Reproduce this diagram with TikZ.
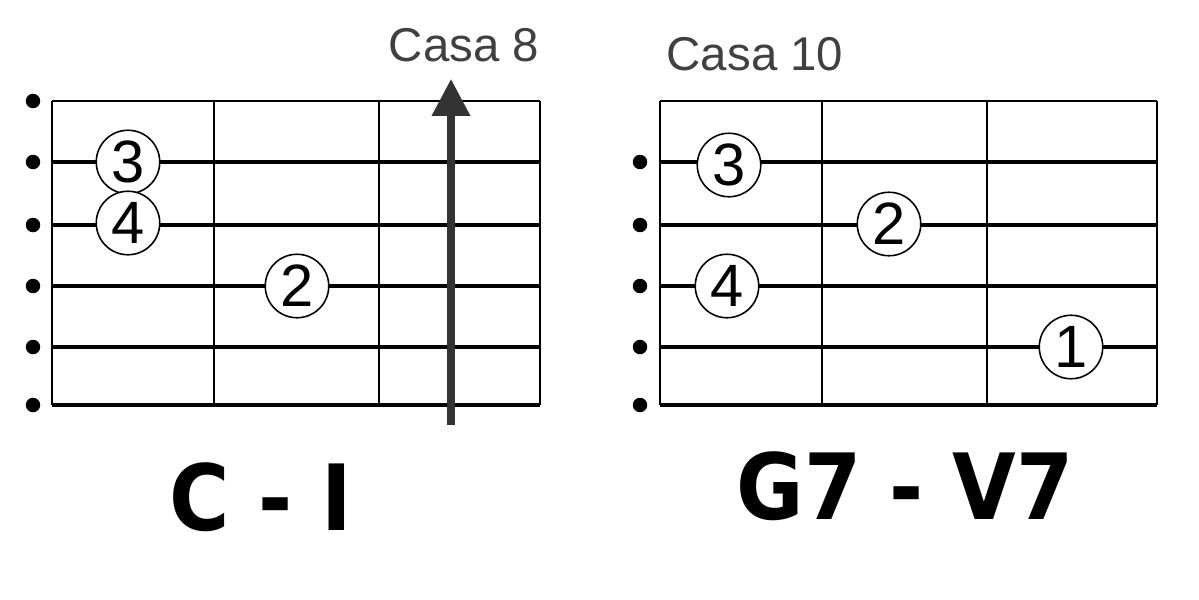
\documentclass[tikz,border=0pt]{standalone}
\usepackage{fontspec}
\setmainfont{Liberation Sans}
\newfontfamily\chordfont{DejaVu Sans Condensed}
\usepackage {tikz}
\usetikzlibrary {positioning,arrows.meta}
\definecolor{casagray}{RGB}{64,64,64}
\definecolor{arrowgray}{RGB}{51,51,51}

\begin{document}
\begin{tikzpicture}[x=0.02cm,y=-0.02cm,
    string line/.style={line width=1.8pt},
    fret line/.style={line width=1.4pt},
    dot node/.style={circle,fill=black,inner sep=0pt,minimum size=0.29cm},
    finger node/.style={circle,draw,fill=white,line width=0.9pt,inner sep=0pt,minimum size=1.27cm,font=\fontsize{34}{34}\selectfont},
    casa node/.style={text=casagray,font=\fontsize{27}{30}\selectfont},
    chord node/.style={font=\chordfont\bfseries\fontsize{52}{56}\selectfont}]
            \useasboundingbox (0,0) rectangle (1199,599);

            % C - I
            \draw[fret line] (52,101) -- (540,101) (52,101) -- (52,405) (214,101) -- (214,405) (379,101) -- (379,405) (540,101) -- (540,405);
            \draw[string line] (52,162) -- (540,162) (52,225) -- (540,225) (52,286) -- (540,286) (52,347) -- (540,347) (52,405) -- (540,405);
            \node[dot node] (c1) at (33,101) {};
            \node[dot node] (c2) at (33,162) {};
            \node[dot node] (c3) at (33,225) {};
            \node[dot node] (c4) at (33,286) {};
            \node[dot node] (c5) at (33,347) {};
            \node[dot node] (c6) at (33,405) {};
            \node[finger node] (c dedo3) at (128,162) {3};
            \node[finger node] (c dedo4) at (128,223) {4};
            \node[finger node] (c dedo2) at (297,286) {2};
            \coordinate (seta base) at (451,425);
            \coordinate (seta topo) at (451,79);
            \draw[arrowgray,line width=4pt,-{Triangle[length=0.74cm,width=0.74cm]}] (seta base) -- (seta topo);
            \node[casa node] (casa8) at (464,45) {Casa 8};
            \node[chord node] (acorde c) at (261,497) {C - I};

            % G7 - V7
            \draw[fret line] (660,101) -- (1157,101) (660,101) -- (660,405) (822,101) -- (822,405) (987,101) -- (987,405) (1157,101) -- (1157,405);
            \draw[string line] (660,162) -- (1157,162) (660,225) -- (1157,225) (660,286) -- (1157,286) (660,347) -- (1157,347) (660,405) -- (1157,405);
            \node[dot node] (g2) at (640,162) {};
            \node[dot node] (g3) at (640,225) {};
            \node[dot node] (g4) at (640,286) {};
            \node[dot node] (g5) at (640,347) {};
            \node[dot node] (g6) at (640,405) {};
            \node[finger node] (g dedo3) at (729,165) {3};
            \node[finger node] (g dedo2) at (889,224) {2};
            \node[finger node] (g dedo4) at (727,286) {4};
            \node[finger node] (g dedo1) at (1071,347) {1};
            \node[casa node] (casa10) at (755,54) {Casa 10};
            \node[chord node] (acorde g) at (905,486) {G7 - V7};
        \end{tikzpicture}
\end{document}
